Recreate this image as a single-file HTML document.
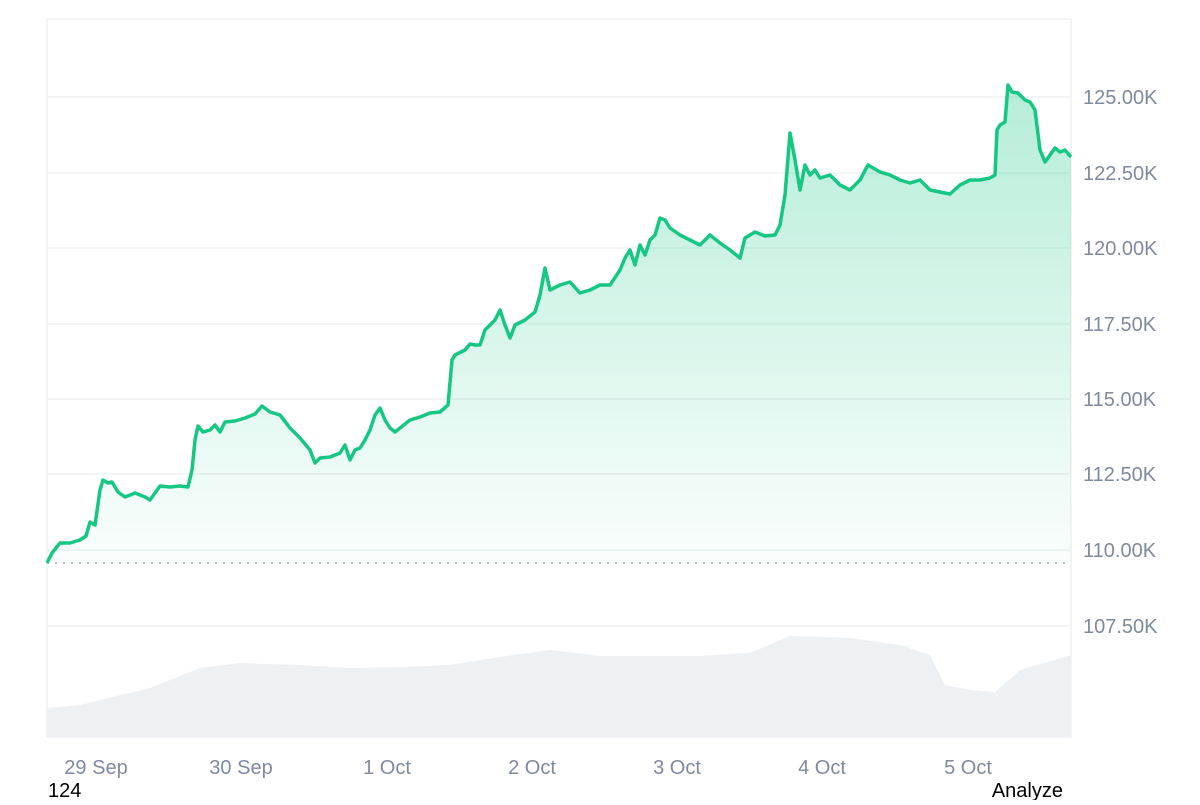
<!DOCTYPE html>
<html><head><meta charset="utf-8"><style>
body{margin:0;background:#fff;width:1200px;height:800px;overflow:hidden;font-family:"Liberation Sans",sans-serif}
</style></head><body>
<svg width="1200" height="800" viewBox="0 0 1200 800" xmlns="http://www.w3.org/2000/svg">
<defs>
<linearGradient id="g" x1="0" y1="80" x2="0" y2="565" gradientUnits="userSpaceOnUse">
<stop offset="0" stop-color="#16c784" stop-opacity="0.32"/>
<stop offset="1" stop-color="#16c784" stop-opacity="0.02"/>
</linearGradient>
</defs>
<rect x="47" y="19" width="1024" height="718" fill="none" stroke="#eff1f4" stroke-width="1.5"/>
<g stroke="#eff1f4" stroke-width="1.5">
<line x1="47" x2="1071" y1="97" y2="97"/><line x1="47" x2="1071" y1="173" y2="173"/>
<line x1="47" x2="1071" y1="248" y2="248"/><line x1="47" x2="1071" y1="324" y2="324"/>
<line x1="47" x2="1071" y1="399" y2="399"/><line x1="47" x2="1071" y1="474" y2="474"/>
<line x1="47" x2="1071" y1="550" y2="550"/><line x1="47" x2="1071" y1="626" y2="626"/>
</g>
<polygon fill="#eef1f4" points="47,737 47,708 80,705 100,700 150,688 200,668 240,663 300,665 350,668 400,667 450,665 500,657 550,650 600,656 650,656 700,656 750,653 790,636 850,638 900,645 930,655 945,685 970,690 995,692 1020,670 1071,655 1071,737"/>
<polygon fill="url(#g)" points="47,563 52,553 60,543 70,543 80,540 86,536 90,522 95,525 100,490 103,480 108,483 112,482 118,492 125,497 135,493 145,497 150,500 160,486 170,487 180,486 188,487 192,470 195,440 198,426 203,432 210,430 215,425 220,432 225,422 235,421 245,418 255,414 262,406 270,412 280,415 290,428 300,438 310,450 315,463 320,458 330,457 340,453 345,445 350,460 355,450 360,448 365,440 370,430 375,415 380,408 385,420 390,428 395,432 400,428 410,420 420,417 430,413 440,412 448,405 452,360 455,355 465,350 470,344 475,345 480,345 485,330 490,325 495,320 500,310 505,325 510,338 515,325 525,320 535,312 540,295 545,268 550,290 560,285 570,282 580,293 590,290 600,285 610,285 620,270 625,258 630,250 635,265 640,245 645,255 650,240 655,235 660,218 665,220 670,228 680,235 690,240 700,245 710,235 720,243 730,250 740,258 745,238 755,232 765,236 775,235 780,225 785,195 790,133 795,160 800,190 805,165 810,175 815,170 820,178 830,175 840,185 850,190 860,180 868,165 880,172 890,175 900,180 910,183 920,180 930,190 940,192 950,194 960,185 970,180 980,180 990,178 995,175 997,130 1000,125 1005,122 1008,85 1012,92 1018,93 1025,100 1030,102 1035,110 1040,150 1045,162 1050,155 1055,148 1060,152 1065,150 1071,157 1071,563"/>
<line x1="47" x2="1071" y1="563" y2="563" stroke="#a0a6b0" stroke-width="1.5" stroke-dasharray="2,6"/>
<polyline fill="none" stroke="#16c784" stroke-width="3.5" stroke-linejoin="round" points="47,563 52,553 60,543 70,543 80,540 86,536 90,522 95,525 100,490 103,480 108,483 112,482 118,492 125,497 135,493 145,497 150,500 160,486 170,487 180,486 188,487 192,470 195,440 198,426 203,432 210,430 215,425 220,432 225,422 235,421 245,418 255,414 262,406 270,412 280,415 290,428 300,438 310,450 315,463 320,458 330,457 340,453 345,445 350,460 355,450 360,448 365,440 370,430 375,415 380,408 385,420 390,428 395,432 400,428 410,420 420,417 430,413 440,412 448,405 452,360 455,355 465,350 470,344 475,345 480,345 485,330 490,325 495,320 500,310 505,325 510,338 515,325 525,320 535,312 540,295 545,268 550,290 560,285 570,282 580,293 590,290 600,285 610,285 620,270 625,258 630,250 635,265 640,245 645,255 650,240 655,235 660,218 665,220 670,228 680,235 690,240 700,245 710,235 720,243 730,250 740,258 745,238 755,232 765,236 775,235 780,225 785,195 790,133 795,160 800,190 805,165 810,175 815,170 820,178 830,175 840,185 850,190 860,180 868,165 880,172 890,175 900,180 910,183 920,180 930,190 940,192 950,194 960,185 970,180 980,180 990,178 995,175 997,130 1000,125 1005,122 1008,85 1012,92 1018,93 1025,100 1030,102 1035,110 1040,150 1045,162 1050,155 1055,148 1060,152 1065,150 1071,157"/>
<g fill="#808a9d" font-size="20" font-family="Liberation Sans, sans-serif">
<text x="1083" y="104">125.00K</text><text x="1083" y="180">122.50K</text>
<text x="1083" y="255">120.00K</text><text x="1083" y="331">117.50K</text>
<text x="1083" y="406">115.00K</text><text x="1083" y="481">112.50K</text>
<text x="1083" y="557">110.00K</text><text x="1083" y="633">107.50K</text>
<g text-anchor="middle">
<text x="96" y="774">29 Sep</text><text x="241" y="774">30 Sep</text>
<text x="387" y="774">1 Oct</text><text x="532" y="774">2 Oct</text>
<text x="677" y="774">3 Oct</text><text x="822" y="774">4 Oct</text>
<text x="968" y="774">5 Oct</text></g>
</g>
<text x="48" y="797" font-size="20" fill="#000">124</text>
<text x="1063" y="797" font-size="20" fill="#000" text-anchor="end">Analyze</text>
</svg>
</body></html>
